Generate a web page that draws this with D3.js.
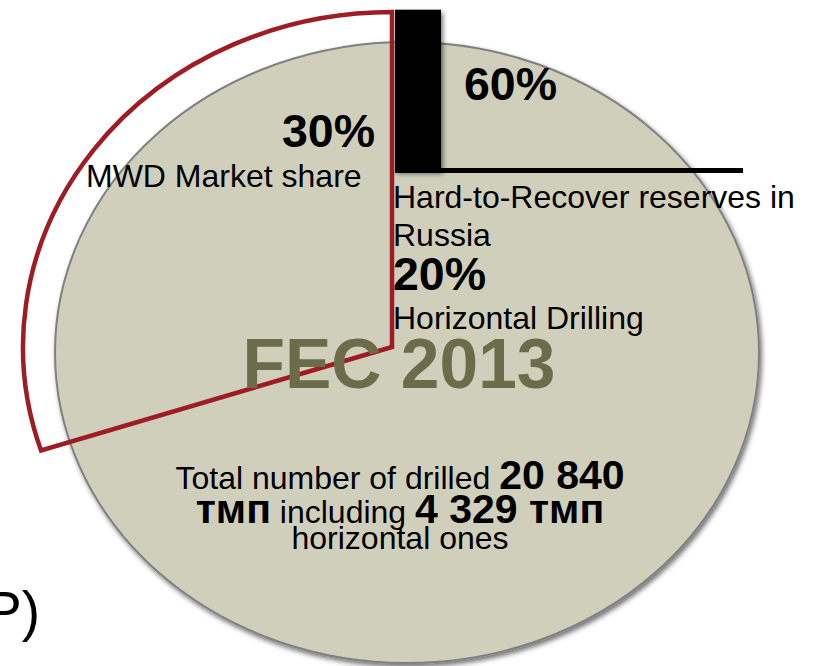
<!DOCTYPE html>
<html>
<head>
<meta charset="utf-8">
<script src="https://cdn.jsdelivr.net/npm/d3@7/dist/d3.min.js"></script>
<style>
  html, body { margin: 0; padding: 0; background: #fff; overflow: hidden; }
  svg { display: block; }
  text { font-family: "Liberation Sans", Arial, "DejaVu Sans", sans-serif; }
</style>
</head>
<body>
<svg id="chart" width="814" height="666"></svg>
<script>
// ---- data ----
const shareCategories = ["MWD Market share", "Others"];
const shareValues = [30, 70];
const reserveCategories = ["Hard-to-Recover reserves in Russia"];
const reserveValues = [60];
const horizontalShare = [20];
const totalWells = ["20 840"];
const horizontalWells = ["4 329"];
const unitLabel = "тмп";
const centerTitle = "FEC 2013";

const svg = d3.select("#chart");

// filters
const defs = svg.append("defs");
const f = defs.append("filter").attr("id", "shadow")
  .attr("x", "-10%").attr("y", "-10%").attr("width", "130%").attr("height", "130%");
f.append("feDropShadow").attr("dx", 2).attr("dy", 3).attr("stdDeviation", 2.5)
  .attr("flood-color", "#000").attr("flood-opacity", 0.55);

// ---- base ellipse (FEC 2013) ----
const ell = { cx: 407, cy: 352.5, rx: 352, ry: 310.5 };
svg.append("ellipse")
  .attr("cx", ell.cx).attr("cy", ell.cy).attr("rx", ell.rx).attr("ry", ell.ry)
  .attr("fill", "#d0cfbb").attr("stroke", "#808080").attr("stroke-width", 2)
  .attr("filter", "url(#shadow)");

// ---- bar: hard-to-recover reserves ----
const baseY = 170.5;
const x = d3.scaleBand().domain(reserveCategories).range([395, 441]).padding(0);
const y = d3.scaleLinear().domain([0, 100]).range([baseY, baseY - 268]);
svg.append("g").selectAll("rect").data(reserveValues).join("rect")
  .attr("x", (d, i) => x(reserveCategories[i]))
  .attr("y", d => y(d))
  .attr("width", x.bandwidth())
  .attr("height", d => y(0) - y(d))
  .attr("fill", "#000")
  .attr("filter", "url(#shadow)");
svg.append("line")
  .attr("x1", 395).attr("x2", 743).attr("y1", baseY).attr("y2", baseY)
  .attr("stroke", "#000").attr("stroke-width", 5);

// ---- red wedge: MWD market share (elliptical sector) ----
const wc = { cx: 392, cy: 347, rx: 369, ry: 335 };
const pie = d3.pie().sort(null).startAngle(0).endAngle(-2 * Math.PI);
const arcs = pie(shareValues);
const arc = d3.arc().innerRadius(0).outerRadius(wc.ry);
svg.append("g")
  .attr("transform", `translate(${wc.cx},${wc.cy}) scale(${wc.rx / wc.ry},1)`)
  .selectAll("path").data([arcs[0]]).join("path")
  .attr("d", arc)
  .attr("fill", "none")
  .attr("stroke", "#9e1d24")
  .attr("stroke-width", 4.5)
  .attr("stroke-linejoin", "miter")
  .attr("vector-effect", "non-scaling-stroke");

// ---- texts ----
const REG = 32, BIGB = 46.5, TOT = 41;
function txt(xp, yp, s, size, weight, anchor, fill) {
  return svg.append("text").attr("x", xp).attr("y", yp)
    .attr("font-size", size).attr("font-weight", weight || "normal")
    .attr("text-anchor", anchor || "start")
    .attr("fill", fill || "#000").text(s);
}
txt(464, 100, reserveValues[0] + "%", BIGB, "bold");
txt(282, 146.5, shareValues[0] + "%", BIGB, "bold");
txt(86, 187, shareCategories[0], REG);
txt(393, 208, "Hard-to-Recover reserves in", REG);
txt(393, 246, "Russia", REG);
txt(393, 290, horizontalShare[0] + "%", BIGB, "bold");
txt(393, 329, "Horizontal Drilling", REG);
txt(399, 388, centerTitle, 69.5, "bold", "middle", "#6d6c4a");

const t1 = svg.append("text").attr("x", 400).attr("y", 489).attr("text-anchor", "middle");
t1.append("tspan").attr("font-size", REG).text("Total number of drilled ");
t1.append("tspan").attr("font-size", TOT).attr("font-weight", "bold").text(totalWells[0]);

const t2 = svg.append("text").attr("x", 400).attr("y", 523).attr("text-anchor", "middle");
t2.append("tspan").attr("font-size", TOT).attr("font-weight", "bold").text(unitLabel);
t2.append("tspan").attr("font-size", REG).text(" including ");
t2.append("tspan").attr("font-size", TOT).attr("font-weight", "bold").text(horizontalWells[0] + " " + unitLabel);

txt(400, 549, "horizontal ones", REG, "normal", "middle");

txt(-15, 630, "P)", 55, "normal");
</script>
</body>
</html>
